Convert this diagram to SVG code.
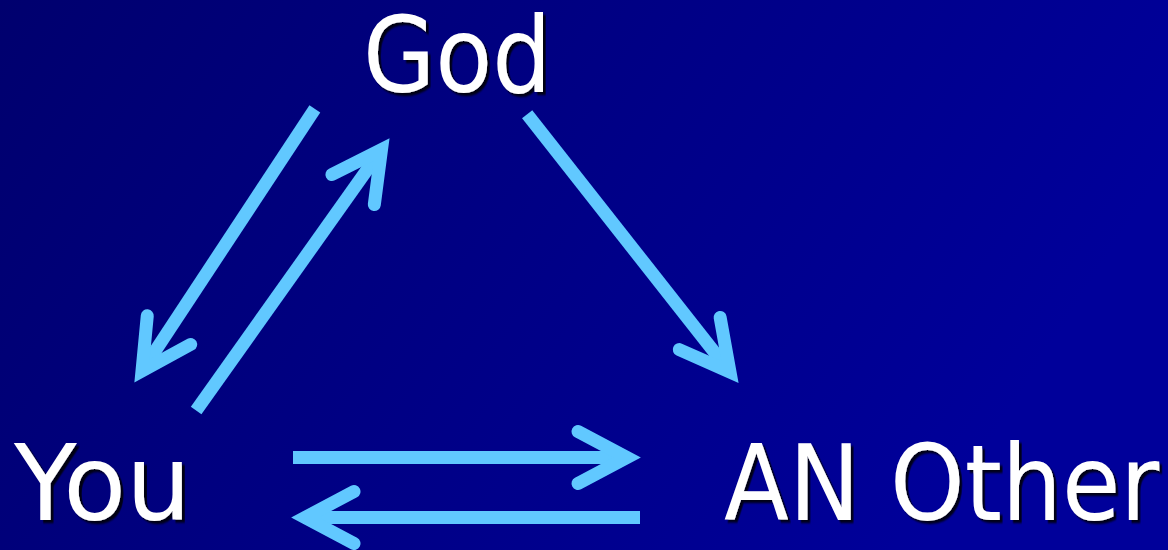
<svg xmlns="http://www.w3.org/2000/svg" width="1168" height="550" viewBox="0 0 1168 550">
  <defs>
    <linearGradient id="bg" x1="0" y1="0" x2="1" y2="0.3">
      <stop offset="0" stop-color="#00006E"/>
      <stop offset="1" stop-color="#00009A"/>
    </linearGradient>
    <filter id="shadow" x="-20%" y="-30%" width="140%" height="160%">
      <feDropShadow dx="3" dy="3" stdDeviation="0.8" flood-color="#000000" flood-opacity="0.85"/>
    </filter>
    <style>
      .label { font-family: "DejaVu Sans", "Liberation Sans", sans-serif; font-size: 106px; fill: #FFFFFF; filter: url(#shadow); }
      .shaft { stroke: #61C8FF; stroke-width: 13; stroke-linecap: butt; fill: none; }
      .head { stroke: #61C8FF; stroke-width: 13; stroke-linecap: round; stroke-linejoin: miter; stroke-miterlimit: 10; fill: none; }
    </style>
  </defs>
  <rect x="0" y="0" width="1168" height="550" fill="url(#bg)"/>

  <g id="node-god">
    <text class="label" transform="translate(363,92) scale(0.88,1)" x="0" y="0">God</text>
  </g>
  <g id="node-you">
    <text class="label" transform="translate(14,520) scale(0.97,1)" x="0" y="0">You</text>
  </g>
  <g id="node-other">
    <text class="label" transform="translate(724,520) scale(0.895,1)" x="0" y="0">AN Other</text>
  </g>

  <g id="connectors">
    <!-- God to You -->
    <g transform="translate(142,371) rotate(123.4)">
      <line class="shaft" x1="-314" y1="0" x2="0" y2="0"/>
      <polyline class="head" points="-49,-26 0,0 -49,26"/>
    </g>
    <!-- You to God -->
    <g transform="translate(381.5,149.6) rotate(-54.6)">
      <line class="shaft" x1="-320" y1="0" x2="0" y2="0"/>
      <polyline class="head" points="-49,-26 0,0 -49,26"/>
    </g>
    <!-- God to AN Other -->
    <g transform="translate(730,372) rotate(51.8)">
      <line class="shaft" x1="-328" y1="0" x2="0" y2="0"/>
      <polyline class="head" points="-49,-26 0,0 -49,26"/>
    </g>
    <!-- You to AN Other -->
    <g transform="translate(627,457.5)">
      <line class="shaft" x1="-334" y1="0" x2="0" y2="0"/>
      <polyline class="head" points="-49,-26 0,0 -49,26"/>
    </g>
    <!-- AN Other to You -->
    <g transform="translate(305,517.5) rotate(180)">
      <line class="shaft" x1="-335" y1="0" x2="0" y2="0"/>
      <polyline class="head" points="-49,-26 0,0 -49,26"/>
    </g>
  </g>
</svg>
